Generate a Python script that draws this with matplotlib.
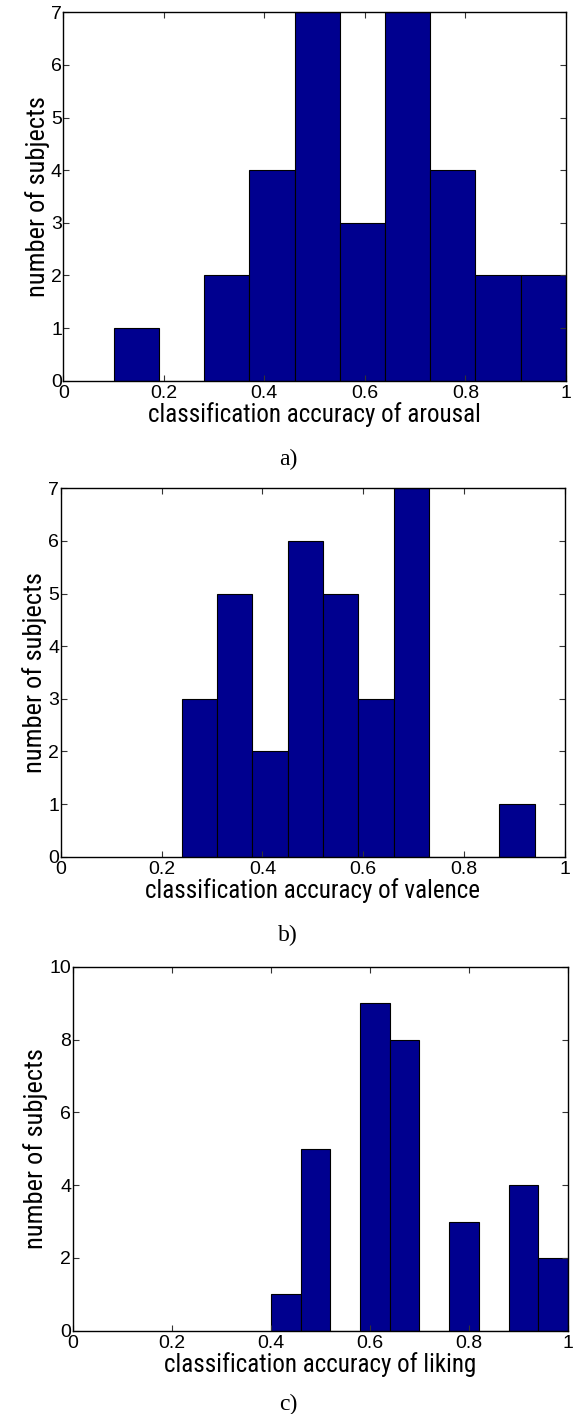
import numpy as np
import matplotlib
matplotlib.use("Agg")
import matplotlib.pyplot as plt

# histogram bin edges and subject counts per panel
arousal_edges = [0.10, 0.19, 0.28, 0.37, 0.46, 0.55, 0.64, 0.73, 0.82, 0.91, 1.00]
arousal_counts = [1, 0, 2, 4, 7, 3, 7, 4, 2, 2]

valence_edges = [0.24, 0.31, 0.38, 0.45, 0.52, 0.59, 0.66, 0.73, 0.80, 0.87, 0.94]
valence_counts = [3, 5, 2, 6, 5, 3, 7, 0, 0, 1]

liking_edges = [0.40, 0.46, 0.52, 0.58, 0.64, 0.70, 0.76, 0.82, 0.88, 0.94, 1.00]
liking_counts = [1, 5, 0, 9, 8, 0, 3, 0, 4, 2]

x_ticks = [0, 0.2, 0.4, 0.6, 0.8, 1]
x_ticklabels = ["0", "0.2", "0.4", "0.6", "0.8", "1"]

panels = [
    ("arousal", arousal_edges, arousal_counts, 7, list(range(0, 8)), "a)"),
    ("valence", valence_edges, valence_counts, 7, list(range(0, 8)), "b)"),
    ("liking", liking_edges, liking_counts, 10, list(range(0, 11, 2)), "c)"),
]

# axes boxes in figure fraction [left, bottom, width, height]
boxes = [
    [0.1099, 0.7308, 0.8727, 0.2605],
    [0.1054, 0.3941, 0.8755, 0.2606],
    [0.1262, 0.0589, 0.8600, 0.2574],
]
caption_y = [0.6711, 0.3345, 0.0030]

BAR_COLOR = "#00008F"
LABEL_FONT = ["Liberation Sans Narrow", "Roboto Condensed", "DejaVu Sans"]
TICK_FONT = ["Liberation Sans", "Arial", "DejaVu Sans"]
CAPTION_FONT = ["Liberation Serif", "DejaVu Serif"]

fig = plt.figure(figsize=(5.76, 14.14), dpi=100)

for (name, edges, counts, ymax, yticks, cap), box, cy in zip(panels, boxes, caption_y):
    ax = fig.add_axes(box)
    edges = np.asarray(edges)
    widths = np.diff(edges)
    ax.bar(edges[:-1], counts, width=widths, align="edge",
           color=BAR_COLOR, edgecolor="black", linewidth=0.8)
    ax.set_xlim(0, 1)
    ax.set_ylim(0, ymax)
    ax.set_xticks(x_ticks)
    ax.set_xticklabels(x_ticklabels, family=TICK_FONT, fontsize=14)
    ax.set_yticks(yticks)
    ax.set_yticklabels([str(v) for v in yticks], family=TICK_FONT, fontsize=14)
    ax.tick_params(direction="in", top=True, right=True, length=4, width=0.8,
                   color="#333333")
    ax.tick_params(axis="x", pad=3)
    ax.tick_params(axis="y", pad=1)
    for sp in ax.spines.values():
        sp.set_linewidth(1.0)
        sp.set_color("black")
    ax.set_xlabel(f"classification accuracy of {name}", family=LABEL_FONT,
                  fontsize=18, labelpad=0)
    ax.set_ylabel("number of subjects", family=LABEL_FONT, fontsize=19, labelpad=1)
    fig.text(0.5, cy, cap, family=CAPTION_FONT, fontsize=17,
             ha="center", va="baseline")

fig.savefig("out.png", dpi=100)
